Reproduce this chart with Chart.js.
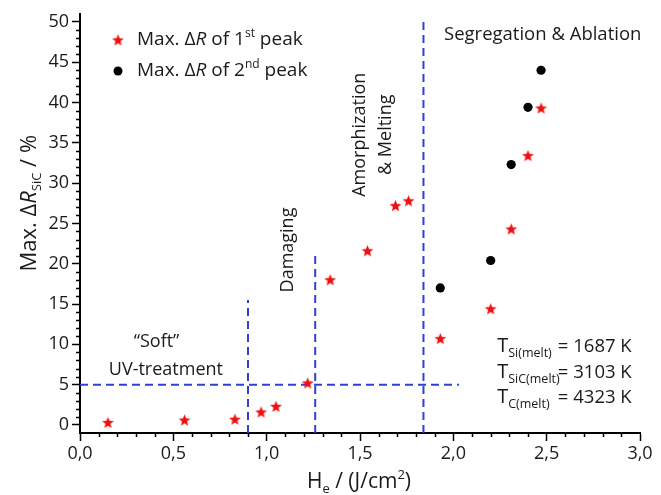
<!DOCTYPE html>
<html>
<head>
<meta charset="utf-8">
<script src="https://cdn.jsdelivr.net/npm/chart.js@4/dist/chart.umd.min.js"></script>
<style>
  body { margin: 0; background: #fff; }
  canvas { display: block; }
</style>
</head>
<body>
<canvas id="myChart" width="661" height="495"></canvas>
<script>
// values
const starX = [0.15, 0.56, 0.83, 0.97, 1.05, 1.22, 1.34, 1.54, 1.69, 1.76, 1.93, 2.20, 2.31, 2.40, 2.47];
const starY = [0.3, 0.6, 0.7, 1.6, 2.3, 5.2, 18.0, 21.6, 27.2, 27.8, 10.7, 14.4, 24.3, 33.4, 39.3];
const dotX = [1.93, 2.20, 2.31, 2.40, 2.47];
const dotY = [17.0, 20.4, 32.3, 39.4, 44.0];

// dashed region borders
const borderX = [0.9, 1.26, 1.84];
const borderTop = [15.5, 21.0, 50.5];
const levelY = 5;
const levelEnd = 2.03;

const xTicks = [0, 0.5, 1.0, 1.5, 2.0, 2.5, 3.0];
const yTicks = [0, 5, 10, 15, 20, 25, 30, 35, 40, 45, 50];

const meltNames = ['Si(melt)', 'SiC(melt)', 'C(melt)'];
const meltTemps = [1687, 3103, 4323];

const FONT = "'Open Sans', sans-serif";
const TXT = '#1a1a1a';
const BLUE = 'rgb(45, 65, 210)';

function makeStar(r, color) {
    const s = Math.ceil(r * 2 + 2);
    const c = document.createElement('canvas');
    c.width = s; c.height = s;
    const g = c.getContext('2d');
    g.translate(s / 2, s / 2 + r * 0.08);
    g.beginPath();
    for (let i = 0; i < 10; i++) {
        const a = -Math.PI / 2 + i * Math.PI / 5;
        const rr = i % 2 ? r * 0.43 : r;
        g.lineTo(Math.cos(a) * rr, Math.sin(a) * rr);
    }
    g.closePath();
    g.fillStyle = color;
    g.fill();
    return c;
}

const starImg = makeStar(6.2, '#ee1111');

// draws a row of text pieces (sub/superscripts, italics) from a start x
function richWidth(ctx, parts, size) {
    let w = 0;
    parts.forEach(function (p) {
        ctx.font = (p.it ? 'italic ' : '') + (p.sz || size) + 'px ' + FONT;
        w += ctx.measureText(p.t).width;
    });
    return w;
}

function drawRich(ctx, parts, x, y, size, align) {
    let w = richWidth(ctx, parts, size);
    let cx = align === 'center' ? x - w / 2 : x;
    ctx.textAlign = 'left';
    ctx.textBaseline = 'alphabetic';
    ctx.fillStyle = TXT;
    parts.forEach(function (p) {
        ctx.font = (p.it ? 'italic ' : '') + (p.sz || size) + 'px ' + FONT;
        ctx.fillText(p.t, cx, y + (p.dy || 0));
        cx += ctx.measureText(p.t).width;
    });
}

const textPlugin = {
    id: 'texts',
    afterDraw: function (chart) {
        const ctx = chart.ctx;
        const xs = chart.scales.x, ys = chart.scales.y;
        const area = chart.chartArea;
        const px = function (v) { return xs.getPixelForValue(v); };
        const py = function (v) { return ys.getPixelForValue(v); };
        ctx.save();

        // minor ticks
        ctx.strokeStyle = '#000';
        ctx.lineWidth = 1.5;
        ctx.beginPath();
        for (let i = 0; i <= 30; i++) {
            if (i % 5 === 0) continue;
            const x = Math.round(px(i / 10)) + 0.5;
            ctx.moveTo(x, area.bottom);
            ctx.lineTo(x, area.bottom + 4);
        }
        for (let j = 0; j <= 50; j++) {
            if (j % 5 === 0) continue;
            const y = Math.round(py(j)) + 0.5;
            ctx.moveTo(area.left, y);
            ctx.lineTo(area.left - 4, y);
        }
        ctx.stroke();

        // legend
        ctx.drawImage(starImg, 118 - starImg.width / 2, 40 - starImg.height / 2);
        ctx.fillStyle = '#000';
        ctx.beginPath();
        ctx.arc(118, 71, 4.5, 0, Math.PI * 2);
        ctx.fill();
        drawRich(ctx, [{ t: 'Max. \u0394' }, { t: 'R', it: true }, { t: ' of 1' }, { t: 'st', sz: 12, dy: -8 }, { t: ' peak' }], 137, 45, 19);
        drawRich(ctx, [{ t: 'Max. \u0394' }, { t: 'R', it: true }, { t: ' of 2' }, { t: 'nd', sz: 12, dy: -8 }, { t: ' peak' }], 137, 76, 19);

        // region notes
        drawRich(ctx, [{ t: '\u201cSoft\u201d' }], px(0.41), py(9.7), 18, 'center');
        drawRich(ctx, [{ t: 'UV-treatment' }], px(0.46), py(6.2), 18, 'center');
        drawRich(ctx, [{ t: 'Segregation & Ablation' }], px(1.95), py(47.7), 18.5);

        const rotated = [
            ['Damaging', 1.11, 21.7],
            ['Amorphization', 1.495, 36.0],
            ['& Melting', 1.634, 36.0]
        ];
        rotated.forEach(function (r) {
            ctx.save();
            ctx.translate(px(r[1]), py(r[2]));
            ctx.rotate(-Math.PI / 2);
            drawRich(ctx, [{ t: r[0] }], 0, 6, 18, 'center');
            ctx.restore();
        });

        // melting temperatures
        const rowY = [9.0, 5.8, 2.7];
        meltNames.forEach(function (n, i) {
            const y = py(rowY[i]);
            drawRich(ctx, [{ t: 'T' }, { t: n, sz: 12.5, dy: 5 }], px(2.235), y, 20);
            drawRich(ctx, [{ t: '= ' + meltTemps[i] + ' K' }], px(2.56), y, 18.5);
        });

        // axis titles
        drawRich(ctx, [{ t: 'H' }, { t: 'e', sz: 13, dy: 5 }, { t: ' / (J/cm' }, { t: '2', sz: 13, dy: -9 }, { t: ')' }],
            (area.left + area.right) / 2 - 1, 488, 21, 'center');
        ctx.save();
        ctx.translate(36, py(27.5));
        ctx.rotate(-Math.PI / 2);
        drawRich(ctx, [{ t: 'Max. \u0394' }, { t: 'R', it: true }, { t: 'SiC', sz: 13, dy: 5 }, { t: ' / %' }], 0, 0, 22, 'center');
        ctx.restore();

        ctx.restore();
    }
};

function guide(points) {
    return {
        type: 'line',
        data: points,
        showLine: true,
        borderColor: BLUE,
        borderWidth: 2,
        borderDash: [8, 5],
        pointRadius: 0,
        fill: false,
        order: 2
    };
}

const datasets = [
    {
        label: 'Max. dR of 1st peak',
        data: starX.map(function (x, i) { return { x: x, y: starY[i] }; }),
        pointStyle: starImg,
        pointRadius: 6,
        order: 1
    },
    {
        label: 'Max. dR of 2nd peak',
        data: dotX.map(function (x, i) { return { x: x, y: dotY[i] }; }),
        pointStyle: 'circle',
        pointRadius: 4.6,
        backgroundColor: '#000',
        borderColor: '#000',
        borderWidth: 0,
        order: 1
    }
];
borderX.forEach(function (x, i) {
    datasets.push(guide([{ x: x, y: -1 }, { x: x, y: borderTop[i] }]));
});
datasets.push(guide([{ x: 0, y: levelY }, { x: levelEnd, y: levelY }]));

const config = {
    type: 'scatter',
    data: { datasets: datasets },
    options: {
        responsive: false,
        animation: false,
        layout: { padding: { top: 11, right: 21, left: 0, bottom: 0 } },
        plugins: { legend: { display: false }, tooltip: { enabled: false } },
        scales: {
            x: {
                type: 'linear',
                min: 0,
                max: 3,
                afterBuildTicks: function (s) { s.ticks = xTicks.map(function (v) { return { value: v }; }); },
                afterFit: function (s) { s.height = 62; },
                ticks: {
                    autoSkip: false,
                    maxRotation: 0,
                    padding: 2,
                    color: TXT,
                    font: { family: FONT, size: 18 },
                    callback: function (v) { return v.toFixed(1).replace('.', ','); }
                },
                grid: { drawOnChartArea: false, tickLength: 8, tickColor: '#000', tickWidth: 1.5 },
                border: { color: '#000', width: 2 }
            },
            y: {
                type: 'linear',
                min: -1,
                max: 51,
                afterBuildTicks: function (s) { s.ticks = yTicks.map(function (v) { return { value: v }; }); },
                afterFit: function (s) { s.width = 80; },
                ticks: {
                    padding: 3,
                    color: TXT,
                    font: { family: FONT, size: 18 },
                    callback: function (v) { return String(v); }
                },
                grid: { drawOnChartArea: false, tickLength: 8, tickColor: '#000', tickWidth: 1.5 },
                border: { color: '#000', width: 2 }
            }
        }
    },
    plugins: [textPlugin]
};

const myChart = new Chart(document.getElementById('myChart'), config);
</script>
</body>
</html>
